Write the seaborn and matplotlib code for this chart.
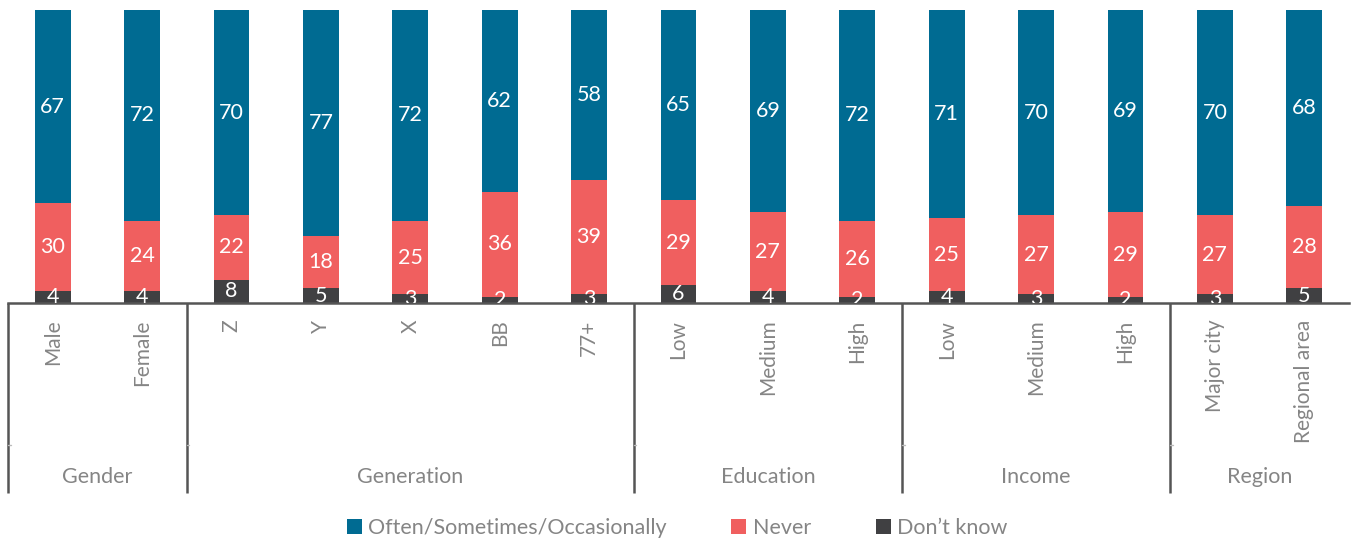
import matplotlib
matplotlib.use("Agg")
import matplotlib.pyplot as plt
import matplotlib.transforms as mtransforms
from matplotlib.patches import Patch
import seaborn as sns
import pandas as pd

groups = ["Gender", "Generation", "Education", "Income", "Region"]
group_sizes = [2, 5, 3, 3, 2]
categories = ["Male", "Female", "Z", "Y", "X", "BB", "77+", "Low", "Medium", "High",
              "Low", "Medium", "High", "Major city", "Regional area"]
often = [67, 72, 70, 77, 72, 62, 58, 65, 69, 72, 71, 70, 69, 70, 68]
never = [30, 24, 22, 18, 25, 36, 39, 29, 27, 26, 25, 27, 29, 27, 28]
dont_know = [4, 4, 8, 5, 3, 2, 3, 6, 4, 2, 4, 3, 2, 3, 5]
series_names = ["Often/Sometimes/Occasionally", "Never", "Don\u2019t know"]

C_BLUE = "#006b92"
C_RED = "#f05f5f"
C_DARK = "#404042"
C_TEXT = "#858585"
C_LINE = "#555555"

sns.set_theme(style="white")
plt.rcParams['font.family'] = ['Lato', 'DejaVu Sans']

keys = [f"{i}_{c}" for i, c in enumerate(categories)]
df = pd.DataFrame({
    "key": keys,
    "dk": dont_know,
    "never_cum": [d + n for d, n in zip(dont_know, never)],
    "total": [d + n + o for d, n, o in zip(dont_know, never, often)],
})

fig = plt.figure(figsize=(13.54, 5.42), dpi=100)
ax = fig.add_axes([8 / 1354, 1 - 303 / 542, (1349 - 8) / 1354, 293 / 542])

W = 0.4
sns.barplot(data=df, x="key", y="total", order=keys, color=C_BLUE, width=W,
            saturation=1, ax=ax, linewidth=0)
sns.barplot(data=df, x="key", y="never_cum", order=keys, color=C_RED, width=W,
            saturation=1, ax=ax, linewidth=0)
sns.barplot(data=df, x="key", y="dk", order=keys, color=C_DARK, width=W,
            saturation=1, ax=ax, linewidth=0)

ax.set_ylim(0, 100)
ax.set_xlim(-0.5, len(keys) - 0.5)
ax.set_xlabel("")
ax.set_ylabel("")
ax.set_yticks([])
for s in ["top", "left", "right"]:
    ax.spines[s].set_visible(False)
ax.spines["bottom"].set_color(C_LINE)
ax.spines["bottom"].set_linewidth(1.8)

ax.set_xticks(range(len(keys)))
ax.set_xticklabels(categories, rotation=90, color=C_TEXT, fontsize=15)
ax.tick_params(axis="x", length=0, pad=12)

# value labels
for i in range(len(keys)):
    d, n, o = dont_know[i], never[i], often[i]
    top_o = min(d + n + o, 100)
    ax.text(i, (d + n + top_o) / 2, str(o), ha="center", va="center", color="white",
            fontsize=15.5, clip_on=True)
    ax.text(i, d + n / 2, str(n), ha="center", va="center", color="white",
            fontsize=15.5, clip_on=True)
    ax.text(i, d / 2, str(d), ha="center", va="center", color="white",
            fontsize=15.5, clip_on=True)

# group separators and labels
trans = mtransforms.blended_transform_factory(ax.transData, ax.transAxes)
y_end = (303 - 493) / 293
y_tick = (303 - 445) / 293
y_lab = (303 - 477) / 293
start = 0
for g, size in zip(groups, group_sizes):
    xb = start - 0.5
    ax.plot([xb, xb], [0, y_end], transform=trans, color=C_LINE, lw=1.8,
            clip_on=False, solid_capstyle="butt")
    ax.plot([xb, xb + 0.03], [y_tick, y_tick], transform=trans, color="#bbbbbb",
            lw=1, clip_on=False)
    ax.text(start + (size - 1) / 2, y_lab, g, transform=trans, ha="center",
            va="center", color=C_TEXT, fontsize=15.5)
    start += size

handles = [Patch(facecolor=c, edgecolor="none") for c in (C_BLUE, C_RED, C_DARK)]
leg = fig.legend(handles, series_names, loc="center", bbox_to_anchor=(0.5, 1 - 528 / 542),
                 ncol=3, frameon=False, fontsize=15.5, handlelength=0.7,
                 handleheight=0.7, handletextpad=0.3, columnspacing=3.0)
for t in leg.get_texts():
    t.set_color(C_TEXT)

fig.savefig("out.png", dpi=100)
